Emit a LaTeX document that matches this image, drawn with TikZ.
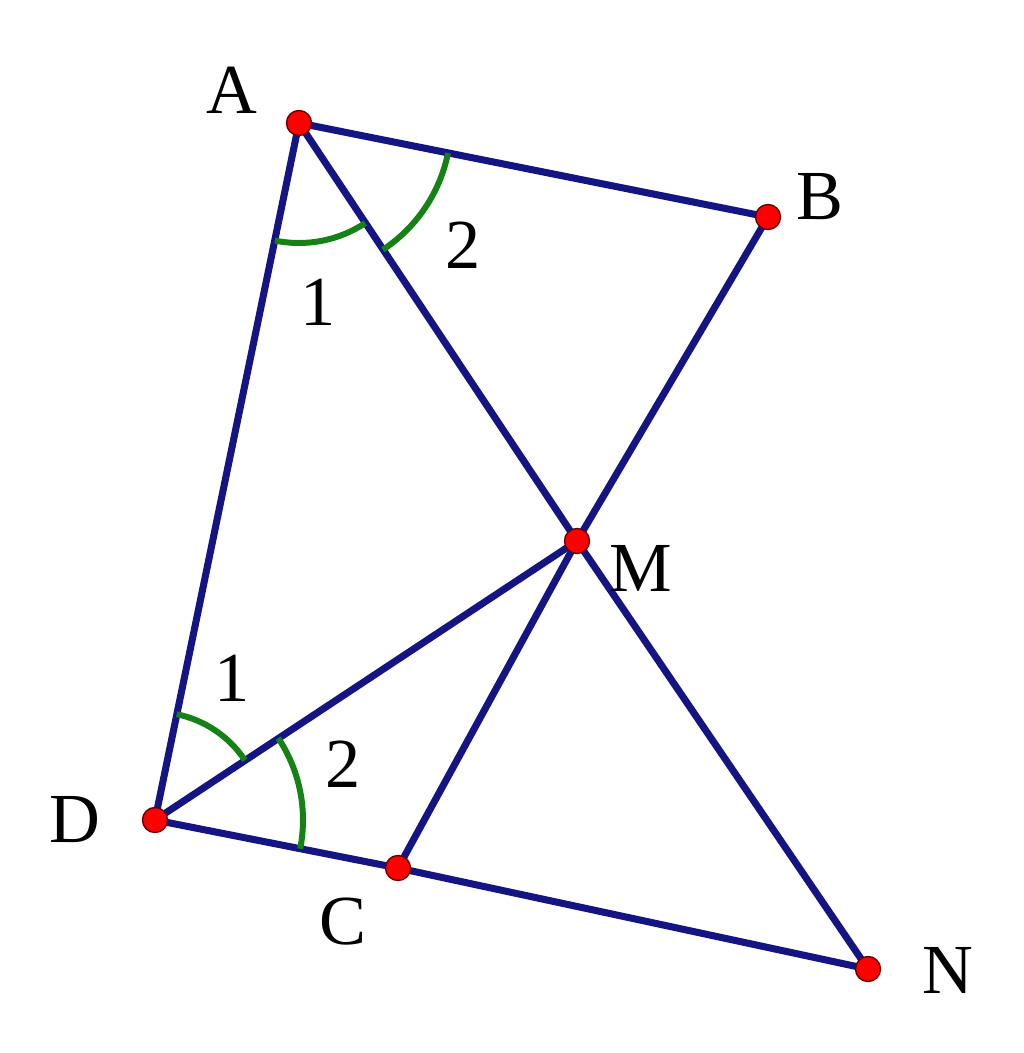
\documentclass[tikz,border=0pt]{standalone}
\usepackage{fontspec}
\setmainfont{Liberation Serif}
\definecolor{segblue}{RGB}{20,20,130}
\definecolor{arcgreen}{RGB}{20,130,20}
\tikzset{
  seg/.style={draw=segblue,line width=2pt,line cap=round,line join=round},
  angarc/.style={draw=arcgreen,line width=1.7pt},
  dot/.style={circle,fill=red,draw=red!40!black,line width=0.4pt,inner sep=0pt,minimum size=0.25cm},
  lbl/.style={font=\fontsize{20}{24}\selectfont,inner sep=0pt}
}

\begin{document}
\begin{tikzpicture}[x=0.01cm,y=-0.01cm]
    \useasboundingbox (0,0) rectangle (1024,1053);
    \coordinate (A) at (299,123);
    \coordinate (B) at (768,217);
    \coordinate (M) at (577,541);
    \coordinate (D) at (155,820);
    \coordinate (C) at (398,868);
    \coordinate (N) at (868,969);
    % sides
    \draw [seg] (A) -- (B);
    \draw [seg] (A) -- (D);
    \draw [seg] (D) -- (C) -- (N);
    \draw [seg] (A) -- (M) -- (N);
    \draw [seg] (B) -- (M) -- (C);
    \draw [seg] (D) -- (M);
    % angle marks
    \draw [angarc] (A) ++(101.6:120) arc [start angle=101.6, end angle=56.5, radius=120];
    \draw [angarc] (A) ++(56.5:152) arc [start angle=56.5, end angle=11.4, radius=152];
    \draw [angarc] (D) ++(-78.4:108) arc [start angle=-78.4, end angle=-33.6, radius=108];
    \draw [angarc] (D) ++(-33.6:148) arc [start angle=-33.6, end angle=11.2, radius=148];
    % points
    \path (A) node [dot] (pA) {};
    \path (B) node [dot] (pB) {};
    \path (M) node [dot] (pM) {};
    \path (D) node [dot] (pD) {};
    \path (C) node [dot] (pC) {};
    \path (N) node [dot] (pN) {};
    % labels
    \path (232, 90) node [lbl] (lA) {A};
    \path (820,197) node [lbl] (lB) {B};
    \path (641,568) node [lbl] (lM) {M};
    \path ( 75,820) node [lbl] (lD) {D};
    \path (343,922) node [lbl] (lC) {C};
    \path (948,970) node [lbl] (lN) {N};
    \path (318,302) node [lbl] (a1) {1};
    \path (463,245) node [lbl] (a2) {2};
    \path (232,678) node [lbl] (d1) {1};
    \path (343,764) node [lbl] (d2) {2};
\end{tikzpicture}
\end{document}
